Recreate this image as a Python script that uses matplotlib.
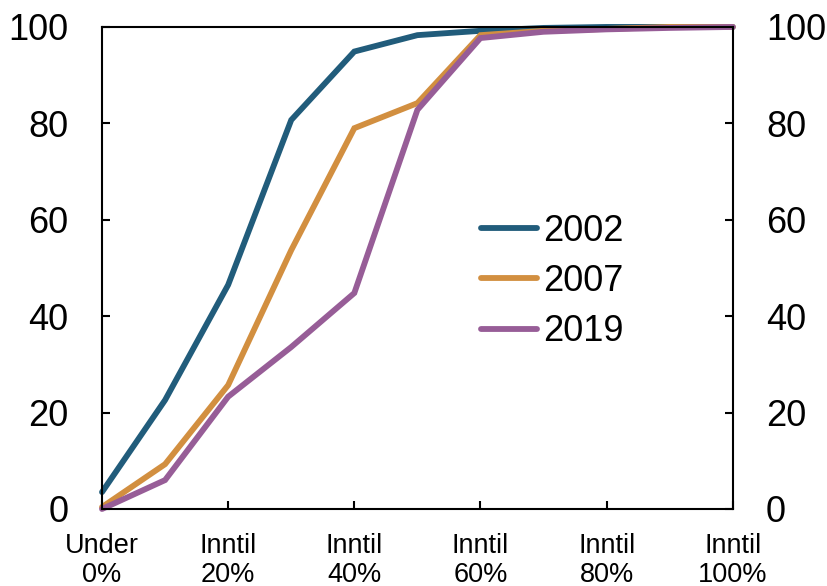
import matplotlib
matplotlib.use("Agg")
import matplotlib.pyplot as plt

plt.rcParams['font.family'] = ['Liberation Sans', 'DejaVu Sans']

x_pos = [0, 1, 2, 3, 4, 5, 6, 7, 8, 9, 10]
tick_pos = [0, 2, 4, 6, 8, 10]
tick_labels = ["Under\n0%", "Inntil\n20%", "Inntil\n40%", "Inntil\n60%", "Inntil\n80%", "Inntil\n100%"]
series_names = ["2002", "2007", "2019"]
v2002 = [3.5, 22.6, 46.5, 80.7, 94.9, 98.3, 99.2, 99.8, 100, 100, 100]
v2007 = [0.4, 9.3, 25.7, 53.7, 79.0, 84.2, 98.3, 99.2, 99.6, 100, 100]
v2019 = [0.0, 6.0, 23.3, 33.6, 44.8, 82.8, 97.7, 99.0, 99.5, 99.8, 100]
colors = ["#215C7B", "#D28F40", "#975D97"]

fig = plt.figure(figsize=(8.28, 5.86), dpi=100)
ax = fig.add_axes([0.1232, 0.1314, 0.885 - 0.1232, 0.954 - 0.1314])

for vals, name, c in zip([v2002, v2007, v2019], series_names, colors):
    ax.plot(x_pos, vals, color=c, lw=4.2, label=name, solid_joinstyle='miter',
            solid_capstyle='round', clip_on=False)

ax.set_xlim(0, 10)
ax.set_ylim(0, 100)
ax.set_yticks(range(0, 101, 20))
ax.set_xticks(tick_pos)
ax.set_xticklabels(tick_labels, fontsize=19.5, linespacing=1.15)
ax.tick_params(axis='y', direction='in', length=6, width=1.5, labelsize=26,
               left=True, right=True, labelleft=True, labelright=True, pad=24)
ax.tick_params(axis='x', direction='in', length=6, width=1.5, pad=17)
for s in ax.spines.values():
    s.set_linewidth(1.5)

leg = ax.legend(loc='center left', bbox_to_anchor=(0.55, 0.472), frameon=False,
                fontsize=26, handlelength=1.55, handletextpad=0.15, labelspacing=0.42)

fig.savefig("out.png", dpi=100)
